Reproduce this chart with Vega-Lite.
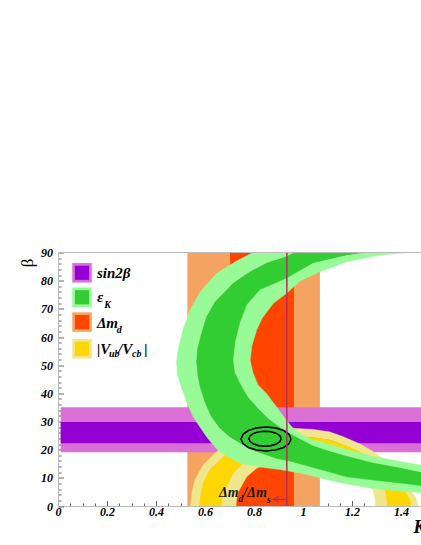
{
"$schema": "https://vega.github.io/schema/vega-lite/v6.json",
"width": 363, "height": 253.5,
"autosize": {"type": "none"},
"padding": {"left": 58, "top": 252.5, "right": 0, "bottom": 39},
"background": "white",
"config": {"view": {"stroke": null}},
"datasets": {
"poly": [
{"s":"gA","i":1,"x":0.833,"y":91.6},{"s":"gA","i":2,"x":0.796,"y":90.0},{"s":"gA","i":3,"x":0.722,"y":86.6},{"s":"gA","i":4,"x":0.648,"y":82.6},{"s":"gA","i":5,"x":0.580,"y":76.0},{"s":"gA","i":6,"x":0.539,"y":69.6},{"s":"gA","i":7,"x":0.510,"y":62.5},{"s":"gA","i":8,"x":0.490,"y":55.4},{"s":"gA","i":9,"x":0.484,"y":51.1},{"s":"gA","i":10,"x":0.488,"y":46.5},{"s":"gA","i":11,"x":0.505,"y":41.9},{"s":"gA","i":12,"x":0.527,"y":36.6},{"s":"gA","i":13,"x":0.552,"y":31.6},{"s":"gA","i":14,"x":0.607,"y":24.5},{"s":"gA","i":15,"x":0.648,"y":20.2},{"s":"gA","i":16,"x":0.689,"y":17.75},{"s":"gA","i":17,"x":0.743,"y":15.27},{"s":"gA","i":18,"x":0.824,"y":13.85},{"s":"gA","i":19,"x":0.906,"y":12.96},{"s":"gA","i":20,"x":0.988,"y":11.72},{"s":"gA","i":21,"x":1.097,"y":9.41},{"s":"gA","i":22,"x":1.178,"y":7.8},{"s":"gA","i":23,"x":1.287,"y":6.2},{"s":"gA","i":24,"x":1.396,"y":5.3},{"s":"gA","i":25,"x":1.478,"y":4.8},{"s":"gA","i":26,"x":1.600,"y":4.1},
{"s":"gA","i":27,"x":1.600,"y":6.4},{"s":"gA","i":28,"x":1.478,"y":7.3},{"s":"gA","i":29,"x":1.396,"y":8.2},{"s":"gA","i":30,"x":1.287,"y":9.2},{"s":"gA","i":31,"x":1.178,"y":10.4},{"s":"gA","i":32,"x":1.042,"y":13.7},{"s":"gA","i":33,"x":0.947,"y":16.0},{"s":"gA","i":34,"x":0.893,"y":16.9},{"s":"gA","i":35,"x":0.784,"y":20.2},{"s":"gA","i":36,"x":0.702,"y":24.6},{"s":"gA","i":37,"x":0.661,"y":27.7},{"s":"gA","i":38,"x":0.627,"y":31.7},{"s":"gA","i":39,"x":0.600,"y":36.9},{"s":"gA","i":40,"x":0.580,"y":42.4},{"s":"gA","i":41,"x":0.571,"y":46.5},{"s":"gA","i":42,"x":0.566,"y":51.1},{"s":"gA","i":43,"x":0.569,"y":55.4},{"s":"gA","i":44,"x":0.584,"y":60.7},{"s":"gA","i":45,"x":0.607,"y":67.2},{"s":"gA","i":46,"x":0.641,"y":72.4},{"s":"gA","i":47,"x":0.716,"y":79.1},{"s":"gA","i":48,"x":0.784,"y":83.1},{"s":"gA","i":49,"x":0.852,"y":86.2},{"s":"gA","i":50,"x":0.933,"y":88.5},{"s":"gA","i":51,"x":0.967,"y":90.0},{"s":"gA","i":52,"x":1.029,"y":91.4},
{"s":"gB","i":1,"x":1.029,"y":91.4},{"s":"gB","i":2,"x":0.967,"y":90.0},{"s":"gB","i":3,"x":0.933,"y":88.5},{"s":"gB","i":4,"x":0.852,"y":86.2},{"s":"gB","i":5,"x":0.784,"y":83.1},{"s":"gB","i":6,"x":0.716,"y":79.1},{"s":"gB","i":7,"x":0.641,"y":72.4},{"s":"gB","i":8,"x":0.607,"y":67.2},{"s":"gB","i":9,"x":0.584,"y":60.7},{"s":"gB","i":10,"x":0.569,"y":55.4},{"s":"gB","i":11,"x":0.566,"y":51.1},{"s":"gB","i":12,"x":0.571,"y":46.5},{"s":"gB","i":13,"x":0.580,"y":42.4},{"s":"gB","i":14,"x":0.600,"y":36.9},{"s":"gB","i":15,"x":0.627,"y":31.7},{"s":"gB","i":16,"x":0.661,"y":27.7},{"s":"gB","i":17,"x":0.702,"y":24.6},{"s":"gB","i":18,"x":0.784,"y":20.2},{"s":"gB","i":19,"x":0.893,"y":16.9},{"s":"gB","i":20,"x":0.947,"y":16.0},{"s":"gB","i":21,"x":1.042,"y":13.7},{"s":"gB","i":22,"x":1.178,"y":10.4},{"s":"gB","i":23,"x":1.287,"y":9.2},{"s":"gB","i":24,"x":1.396,"y":8.2},{"s":"gB","i":25,"x":1.478,"y":7.3},{"s":"gB","i":26,"x":1.600,"y":6.4},
{"s":"gB","i":27,"x":1.600,"y":10.8},{"s":"gB","i":28,"x":1.478,"y":12.2},{"s":"gB","i":29,"x":1.396,"y":13.7},{"s":"gB","i":30,"x":1.287,"y":15.4},{"s":"gB","i":31,"x":1.178,"y":17.8},{"s":"gB","i":32,"x":1.097,"y":19.9},{"s":"gB","i":33,"x":1.042,"y":21.5},{"s":"gB","i":34,"x":0.959,"y":25.2},{"s":"gB","i":35,"x":0.906,"y":28.0},{"s":"gB","i":36,"x":0.857,"y":31.2},{"s":"gB","i":37,"x":0.816,"y":34.8},{"s":"gB","i":38,"x":0.776,"y":38.7},{"s":"gB","i":39,"x":0.743,"y":43.7},{"s":"gB","i":40,"x":0.722,"y":47.6},{"s":"gB","i":41,"x":0.716,"y":51.8},{"s":"gB","i":42,"x":0.724,"y":58.2},{"s":"gB","i":43,"x":0.743,"y":64.9},{"s":"gB","i":44,"x":0.771,"y":71.4},{"s":"gB","i":45,"x":0.824,"y":76.7},{"s":"gB","i":46,"x":0.933,"y":80.8},{"s":"gB","i":47,"x":1.042,"y":86.2},{"s":"gB","i":48,"x":1.178,"y":88.9},{"s":"gB","i":49,"x":1.273,"y":90.1},{"s":"gB","i":50,"x":1.355,"y":91.2},
{"s":"gC","i":1,"x":1.355,"y":91.2},{"s":"gC","i":2,"x":1.273,"y":90.1},{"s":"gC","i":3,"x":1.178,"y":88.9},{"s":"gC","i":4,"x":1.042,"y":86.2},{"s":"gC","i":5,"x":0.933,"y":80.8},{"s":"gC","i":6,"x":0.824,"y":76.7},{"s":"gC","i":7,"x":0.771,"y":71.4},{"s":"gC","i":8,"x":0.743,"y":64.9},{"s":"gC","i":9,"x":0.724,"y":58.2},{"s":"gC","i":10,"x":0.716,"y":51.8},{"s":"gC","i":11,"x":0.722,"y":47.6},{"s":"gC","i":12,"x":0.743,"y":43.7},{"s":"gC","i":13,"x":0.776,"y":38.7},{"s":"gC","i":14,"x":0.816,"y":34.8},{"s":"gC","i":15,"x":0.857,"y":31.2},{"s":"gC","i":16,"x":0.906,"y":28.0},{"s":"gC","i":17,"x":0.959,"y":25.2},{"s":"gC","i":18,"x":1.042,"y":21.5},{"s":"gC","i":19,"x":1.097,"y":19.9},{"s":"gC","i":20,"x":1.178,"y":17.8},{"s":"gC","i":21,"x":1.287,"y":15.4},{"s":"gC","i":22,"x":1.396,"y":13.7},{"s":"gC","i":23,"x":1.478,"y":12.2},{"s":"gC","i":24,"x":1.600,"y":10.8},
{"s":"gC","i":25,"x":1.600,"y":13.1},{"s":"gC","i":26,"x":1.478,"y":14.6},{"s":"gC","i":27,"x":1.396,"y":15.8},{"s":"gC","i":28,"x":1.287,"y":17.6},{"s":"gC","i":29,"x":1.178,"y":20.1},{"s":"gC","i":30,"x":1.097,"y":22.2},{"s":"gC","i":31,"x":1.042,"y":23.4},{"s":"gC","i":32,"x":0.996,"y":25.0},{"s":"gC","i":33,"x":0.955,"y":28.0},{"s":"gC","i":34,"x":0.918,"y":32.0},{"s":"gC","i":35,"x":0.886,"y":35.9},{"s":"gC","i":36,"x":0.852,"y":39.8},{"s":"gC","i":37,"x":0.816,"y":43.0},{"s":"gC","i":38,"x":0.796,"y":47.2},{"s":"gC","i":39,"x":0.784,"y":51.8},{"s":"gC","i":40,"x":0.792,"y":57.2},{"s":"gC","i":41,"x":0.811,"y":62.5},{"s":"gC","i":42,"x":0.833,"y":66.7},{"s":"gC","i":43,"x":0.879,"y":72.0},{"s":"gC","i":44,"x":0.933,"y":75.5},{"s":"gC","i":45,"x":0.988,"y":79.9},{"s":"gC","i":46,"x":1.069,"y":83.2},{"s":"gC","i":47,"x":1.178,"y":86.7},{"s":"gC","i":48,"x":1.314,"y":89.1},{"s":"gC","i":49,"x":1.450,"y":90.1},{"s":"gC","i":50,"x":1.518,"y":91.2},
{"s":"yA","i":1,"x":0.539,"y":-1.1},{"s":"yA","i":2,"x":0.547,"y":5.0},{"s":"yA","i":3,"x":0.559,"y":9.2},{"s":"yA","i":4,"x":0.593,"y":14.6},{"s":"yA","i":5,"x":0.648,"y":19.3},{"s":"yA","i":6,"x":0.689,"y":21.7},{"s":"yA","i":7,"x":0.763,"y":24.5},{"s":"yA","i":8,"x":0.845,"y":26.6},{"s":"yA","i":9,"x":0.935,"y":27.7},{"s":"yA","i":10,"x":1.042,"y":27.2},{"s":"yA","i":11,"x":1.110,"y":26.3},{"s":"yA","i":12,"x":1.164,"y":24.6},{"s":"yA","i":13,"x":1.233,"y":22.0},{"s":"yA","i":14,"x":1.287,"y":19.3},{"s":"yA","i":15,"x":1.335,"y":16.3},{"s":"yA","i":16,"x":1.369,"y":13.4},{"s":"yA","i":17,"x":1.404,"y":9.9},{"s":"yA","i":18,"x":1.437,"y":6.0},{"s":"yA","i":19,"x":1.461,"y":2.8},{"s":"yA","i":20,"x":1.473,"y":-1.1},
{"s":"yA","i":21,"x":1.443,"y":-1.1},{"s":"yA","i":22,"x":1.437,"y":2.1},{"s":"yA","i":23,"x":1.423,"y":4.3},{"s":"yA","i":24,"x":1.400,"y":7.1},{"s":"yA","i":25,"x":1.369,"y":10.4},{"s":"yA","i":26,"x":1.335,"y":13.1},{"s":"yA","i":27,"x":1.287,"y":16.3},{"s":"yA","i":28,"x":1.233,"y":19.2},{"s":"yA","i":29,"x":1.178,"y":21.3},{"s":"yA","i":30,"x":1.110,"y":23.4},{"s":"yA","i":31,"x":1.042,"y":24.3},{"s":"yA","i":32,"x":0.988,"y":24.7},{"s":"yA","i":33,"x":0.865,"y":24.1},{"s":"yA","i":34,"x":0.776,"y":22.4},{"s":"yA","i":35,"x":0.702,"y":19.3},{"s":"yA","i":36,"x":0.661,"y":16.3},{"s":"yA","i":37,"x":0.620,"y":12.8},{"s":"yA","i":38,"x":0.593,"y":8.1},{"s":"yA","i":39,"x":0.584,"y":4.3},{"s":"yA","i":40,"x":0.576,"y":-1.1},
{"s":"yB","i":1,"x":0.576,"y":-1.1},{"s":"yB","i":2,"x":0.584,"y":4.3},{"s":"yB","i":3,"x":0.593,"y":8.1},{"s":"yB","i":4,"x":0.620,"y":12.8},{"s":"yB","i":5,"x":0.661,"y":16.3},{"s":"yB","i":6,"x":0.702,"y":19.3},{"s":"yB","i":7,"x":0.776,"y":22.4},{"s":"yB","i":8,"x":0.865,"y":24.1},{"s":"yB","i":9,"x":0.988,"y":24.7},{"s":"yB","i":10,"x":1.042,"y":24.3},{"s":"yB","i":11,"x":1.110,"y":23.4},{"s":"yB","i":12,"x":1.178,"y":21.3},{"s":"yB","i":13,"x":1.233,"y":19.2},{"s":"yB","i":14,"x":1.287,"y":16.3},{"s":"yB","i":15,"x":1.335,"y":13.1},{"s":"yB","i":16,"x":1.369,"y":10.4},{"s":"yB","i":17,"x":1.400,"y":7.1},{"s":"yB","i":18,"x":1.423,"y":4.3},{"s":"yB","i":19,"x":1.437,"y":2.1},{"s":"yB","i":20,"x":1.443,"y":-1.1},
{"s":"yB","i":21,"x":1.342,"y":-1.1},{"s":"yB","i":22,"x":1.339,"y":3.2},{"s":"yB","i":23,"x":1.328,"y":6.7},{"s":"yB","i":24,"x":1.301,"y":10.3},{"s":"yB","i":25,"x":1.253,"y":13.5},{"s":"yB","i":26,"x":1.192,"y":17.0},{"s":"yB","i":27,"x":1.110,"y":19.9},{"s":"yB","i":28,"x":0.988,"y":20.9},{"s":"yB","i":29,"x":0.886,"y":20.2},{"s":"yB","i":30,"x":0.808,"y":18.1},{"s":"yB","i":31,"x":0.756,"y":15.2},{"s":"yB","i":32,"x":0.716,"y":11.6},{"s":"yB","i":33,"x":0.682,"y":5.7},{"s":"yB","i":34,"x":0.671,"y":2.8},{"s":"yB","i":35,"x":0.668,"y":-1.1},
{"s":"yC","i":1,"x":0.668,"y":-1.1},{"s":"yC","i":2,"x":0.671,"y":2.8},{"s":"yC","i":3,"x":0.682,"y":5.7},{"s":"yC","i":4,"x":0.716,"y":11.6},{"s":"yC","i":5,"x":0.756,"y":15.2},{"s":"yC","i":6,"x":0.808,"y":18.1},{"s":"yC","i":7,"x":0.886,"y":20.2},{"s":"yC","i":8,"x":0.988,"y":20.9},{"s":"yC","i":9,"x":1.110,"y":19.9},{"s":"yC","i":10,"x":1.192,"y":17.0},{"s":"yC","i":11,"x":1.253,"y":13.5},{"s":"yC","i":12,"x":1.301,"y":10.3},{"s":"yC","i":13,"x":1.328,"y":6.7},{"s":"yC","i":14,"x":1.339,"y":3.2},{"s":"yC","i":15,"x":1.342,"y":-1.1},
{"s":"yC","i":16,"x":1.297,"y":-1.1},{"s":"yC","i":17,"x":1.294,"y":2.5},{"s":"yC","i":18,"x":1.286,"y":5.7},{"s":"yC","i":19,"x":1.253,"y":10.3},{"s":"yC","i":20,"x":1.192,"y":13.8},{"s":"yC","i":21,"x":1.110,"y":16.0},{"s":"yC","i":22,"x":1.029,"y":17.0},{"s":"yC","i":23,"x":0.947,"y":17.0},{"s":"yC","i":24,"x":0.865,"y":15.6},{"s":"yC","i":25,"x":0.811,"y":13.4},{"s":"yC","i":26,"x":0.770,"y":10.4},{"s":"yC","i":27,"x":0.736,"y":5.1},{"s":"yC","i":28,"x":0.729,"y":2.5},{"s":"yC","i":29,"x":0.725,"y":-1.1},
{"s":"e1","i":1,"x":0.951,"y":23.8},{"s":"e1","i":2,"x":0.943,"y":25.43},{"s":"e1","i":3,"x":0.921,"y":26.81},{"s":"e1","i":4,"x":0.888,"y":27.74},{"s":"e1","i":5,"x":0.849,"y":28.06},{"s":"e1","i":6,"x":0.810,"y":27.74},{"s":"e1","i":7,"x":0.777,"y":26.81},{"s":"e1","i":8,"x":0.755,"y":25.43},{"s":"e1","i":9,"x":0.747,"y":23.8},{"s":"e1","i":10,"x":0.755,"y":22.17},{"s":"e1","i":11,"x":0.777,"y":20.79},{"s":"e1","i":12,"x":0.810,"y":19.86},{"s":"e1","i":13,"x":0.849,"y":19.54},{"s":"e1","i":14,"x":0.888,"y":19.86},{"s":"e1","i":15,"x":0.921,"y":20.79},{"s":"e1","i":16,"x":0.943,"y":22.17},{"s":"e1","i":17,"x":0.951,"y":23.8},
{"s":"e2","i":1,"x":0.911,"y":23.9},{"s":"e2","i":2,"x":0.906,"y":24.92},{"s":"e2","i":3,"x":0.892,"y":25.78},{"s":"e2","i":4,"x":0.870,"y":26.36},{"s":"e2","i":5,"x":0.845,"y":26.56},{"s":"e2","i":6,"x":0.820,"y":26.36},{"s":"e2","i":7,"x":0.798,"y":25.78},{"s":"e2","i":8,"x":0.784,"y":24.92},{"s":"e2","i":9,"x":0.779,"y":23.9},{"s":"e2","i":10,"x":0.784,"y":22.88},{"s":"e2","i":11,"x":0.798,"y":22.02},{"s":"e2","i":12,"x":0.820,"y":21.44},{"s":"e2","i":13,"x":0.845,"y":21.24},{"s":"e2","i":14,"x":0.870,"y":21.44},{"s":"e2","i":15,"x":0.892,"y":22.02},{"s":"e2","i":16,"x":0.906,"y":22.88},{"s":"e2","i":17,"x":0.911,"y":23.9}
]
},
"encoding": {
"x": {"field": "x", "type": "quantitative", "scale": {"domain": [0, 1.4816], "nice": false, "zero": false},
"axis": {"title": "K", "titleFont": "Liberation Serif", "titleFontStyle": "italic", "titleFontWeight": "bold", "titleFontSize": 18, "titleColor": "#000", "titleX": 355, "titleY": 26, "titleAlign": "left", "titleBaseline": "alphabetic", "titleAnchor": "start",
"values": [0,0.05,0.1,0.15,0.2,0.25,0.3,0.35,0.4,0.45,0.5,0.55,0.6,0.65,0.7,0.75,0.8,0.85,0.9,0.95,1,1.05,1.1,1.15,1.2,1.25,1.3,1.35,1.4,1.45],
"labelExpr": "abs(datum.value*5 - round(datum.value*5)) < 0.001 ? format(datum.value, '~g') : ''",
"labelFont": "Liberation Serif", "labelFontStyle": "italic", "labelFontWeight": "bold", "labelFontSize": 12, "labelColor": "#000", "labelPadding": 6, "labelFlush": false, "labelOverlap": false, "labelBound": false,
"tickSize": {"condition": {"test": "abs(datum.value*5 - round(datum.value*5)) < 0.001", "value": -5.5}, "value": -3},
"tickColor": "#666", "domainColor": "#bbb", "grid": false, "zindex": 0}},
"y": {"field": "y", "type": "quantitative", "scale": {"domain": [0, 90], "nice": false},
"axis": {"title": "β", "titleFont": "Liberation Serif", "titleFontSize": 17, "titleFontWeight": "normal", "titleColor": "#000", "titleAngle": -90, "titleX": -31, "titleY": 10, "titleAlign": "center", "titleBaseline": "middle",
"values": [0,2,4,6,8,10,12,14,16,18,20,22,24,26,28,30,32,34,36,38,40,42,44,46,48,50,52,54,56,58,60,62,64,66,68,70,72,74,76,78,80,82,84,86,88,90],
"labelExpr": "datum.value % 10 === 0 ? format(datum.value, 'd') : ''",
"labelFont": "Liberation Serif", "labelFontStyle": "italic", "labelFontWeight": "bold", "labelFontSize": 12, "labelColor": "#000", "labelPadding": 11, "labelFlush": false, "labelOverlap": false, "labelBound": false,
"tickSize": {"condition": {"test": "datum.value % 10 === 0", "value": -5.5}, "value": -3},
"tickColor": "#666", "domainColor": "#bbb", "grid": false, "zindex": 0}}
},
"layer": [
{"data": {"values": [{"x": 0.528, "x2": 1.069, "y": 0, "y2": 90}]}, "mark": {"type": "rect", "fill": "#F4A460", "clip": true}, "encoding": {"x2": {"field": "x2"}, "y2": {"field": "y2"}}},
{"data": {"values": [{"x": 0.702, "x2": 0.963, "y": 0, "y2": 90}]}, "mark": {"type": "rect", "fill": "#FF4500", "clip": true}, "encoding": {"x2": {"field": "x2"}, "y2": {"field": "y2"}}},
{"data": {"values": [{"x": 0.011, "x2": 1.4816, "y": 19.06, "y2": 35.04}]}, "mark": {"type": "rect", "fill": "#DA70D6", "clip": true}, "encoding": {"x2": {"field": "x2"}, "y2": {"field": "y2"}}},
{"data": {"values": [{"x": 0.011, "x2": 1.4816, "y": 22.26, "y2": 29.82}]}, "mark": {"type": "rect", "fill": "#9400D3", "clip": true}, "encoding": {"x2": {"field": "x2"}, "y2": {"field": "y2"}}},
{"data": {"name": "poly"}, "transform": [{"filter": "datum.s === 'yA'"}], "mark": {"type": "line", "fill": "#F0E68C", "stroke": "#F0E68C", "strokeWidth": 0.5, "clip": true}, "encoding": {"order": {"field": "i", "type": "quantitative"}}},
{"data": {"name": "poly"}, "transform": [{"filter": "datum.s === 'yB'"}], "mark": {"type": "line", "fill": "#FFD700", "stroke": "#FFD700", "strokeWidth": 0.5, "clip": true}, "encoding": {"order": {"field": "i", "type": "quantitative"}}},
{"data": {"name": "poly"}, "transform": [{"filter": "datum.s === 'yC'"}], "mark": {"type": "line", "fill": "#F0E68C", "stroke": "#F0E68C", "strokeWidth": 0.5, "clip": true}, "encoding": {"order": {"field": "i", "type": "quantitative"}}},
{"data": {"name": "poly"}, "transform": [{"filter": "datum.s === 'gA'"}], "mark": {"type": "line", "fill": "#98FB98", "stroke": "#98FB98", "strokeWidth": 0.5, "clip": true}, "encoding": {"order": {"field": "i", "type": "quantitative"}}},
{"data": {"name": "poly"}, "transform": [{"filter": "datum.s === 'gB'"}], "mark": {"type": "line", "fill": "#32CD32", "stroke": "#32CD32", "strokeWidth": 0.5, "clip": true}, "encoding": {"order": {"field": "i", "type": "quantitative"}}},
{"data": {"name": "poly"}, "transform": [{"filter": "datum.s === 'gC'"}], "mark": {"type": "line", "fill": "#98FB98", "stroke": "#98FB98", "strokeWidth": 0.5, "clip": true}, "encoding": {"order": {"field": "i", "type": "quantitative"}}},
{"data": {"name": "poly"}, "transform": [{"filter": "datum.s === 'e1' || datum.s === 'e2'"}], "mark": {"type": "line", "stroke": "#000", "strokeWidth": 1.6, "clip": true}, "encoding": {"detail": {"field": "s"}, "order": {"field": "i", "type": "quantitative"}}},
{"data": {"values": [{"x": 0.934, "y": 0, "y2": 90}]}, "mark": {"type": "rule", "color": "#B03060", "strokeWidth": 1.5}, "encoding": {"y2": {"field": "y2"}}},
{"data": {"values": [{"x": 0.879, "x2": 0.934, "y": 2.38}]}, "mark": {"type": "rule", "color": "#B03060", "strokeWidth": 1.2}, "encoding": {"x2": {"field": "x2"}}},
{"data": {"values": [{"i": 1, "x": 0.902, "y": 3.37}, {"i": 2, "x": 0.879, "y": 2.38}, {"i": 3, "x": 0.902, "y": 1.42}]}, "mark": {"type": "line", "color": "#B03060", "strokeWidth": 1.2}, "encoding": {"order": {"field": "i", "type": "quantitative"}}},
{"data": {"values": [{"x": 0, "x2": 1.4816, "y": 90}]}, "mark": {"type": "rule", "color": "#bbb", "strokeWidth": 1}, "encoding": {"x2": {"field": "x2"}}},
{"data": {"values": [{"k": "a", "x": 0.098, "y": 82.8}, {"k": "b", "x": 0.098, "y": 74.1}, {"k": "c", "x": 0.098, "y": 65.3}, {"k": "d", "x": 0.098, "y": 55.85}]}, "mark": {"type": "point", "shape": "square", "size": 380, "filled": true, "opacity": 1}, "encoding": {"fill": {"field": "k", "type": "nominal", "scale": {"domain": ["a", "b", "c", "d"], "range": ["#DA70D6", "#98FB98", "#F4A460", "#F0E68C"]}, "legend": null}}},
{"data": {"values": [{"k": "a", "x": 0.098, "y": 82.8}, {"k": "b", "x": 0.098, "y": 74.1}, {"k": "c", "x": 0.098, "y": 65.3}, {"k": "d", "x": 0.098, "y": 55.85}]}, "mark": {"type": "point", "shape": "square", "size": 200, "filled": true, "opacity": 1}, "encoding": {"color": {"field": "k", "type": "nominal", "scale": {"domain": ["a", "b", "c", "d"], "range": ["#9400D3", "#32CD32", "#FF4500", "#FFD700"]}, "legend": null}}},
{"data": {"values": [{"t": "sin2β", "x": 0.159, "y": 82.7}, {"t": "ε", "x": 0.159, "y": 74.2}, {"t": "Δm", "x": 0.159, "y": 64.9}, {"t": "|V", "x": 0.159, "y": 55.7}, {"t": "/V", "x": 0.245, "y": 55.7}, {"t": "|", "x": 0.352, "y": 55.7}]}, "mark": {"type": "text", "align": "left", "baseline": "middle", "font": "Liberation Serif", "fontStyle": "italic", "fontWeight": "bold", "fontSize": 15, "color": "#000"}, "encoding": {"text": {"field": "t"}}},
{"data": {"values": [{"t": "K", "x": 0.189, "y": 71.4}, {"t": "d", "x": 0.240, "y": 62.5}, {"t": "ub", "x": 0.208, "y": 53.9}, {"t": "cb", "x": 0.302, "y": 53.9}]}, "mark": {"type": "text", "align": "left", "baseline": "middle", "font": "Liberation Serif", "fontStyle": "italic", "fontWeight": "bold", "fontSize": 10, "color": "#000"}, "encoding": {"text": {"field": "t"}}},
{"data": {"values": [{"t": "Δm", "x": 0.657, "y": 4.5}, {"t": "/Δm", "x": 0.756, "y": 4.5}]}, "mark": {"type": "text", "align": "left", "baseline": "middle", "font": "Liberation Serif", "fontStyle": "italic", "fontWeight": "bold", "fontSize": 14, "color": "#1a1a1a"}, "encoding": {"text": {"field": "t"}}},
{"data": {"values": [{"t": "d", "x": 0.736, "y": 2.66}, {"t": "s", "x": 0.852, "y": 2.3}]}, "mark": {"type": "text", "align": "left", "baseline": "middle", "font": "Liberation Serif", "fontStyle": "italic", "fontWeight": "bold", "fontSize": 10, "color": "#1a1a1a"}, "encoding": {"text": {"field": "t"}}}
]
}
